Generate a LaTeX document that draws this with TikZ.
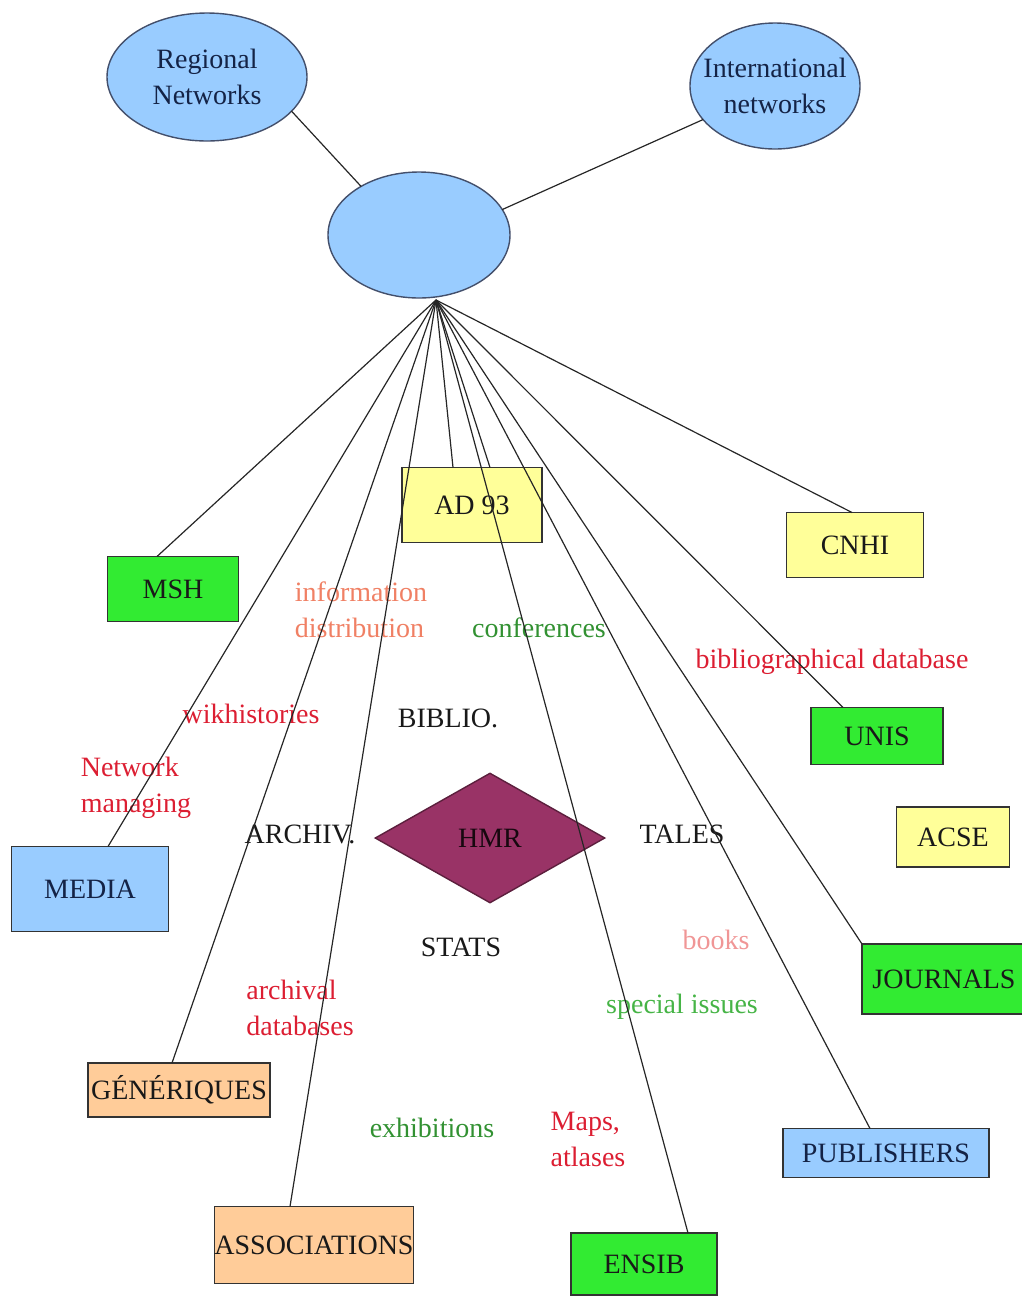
\documentclass[tikz,border=0pt]{standalone}
\usepackage{fontspec}
\setmainfont{Liberation Serif}
\usetikzlibrary{shapes.geometric}

\definecolor{netblue}{RGB}{153,204,255}
\definecolor{netink}{RGB}{20,35,70}
\definecolor{boxgreen}{RGB}{50,235,50}
\definecolor{boxyellow}{RGB}{255,255,153}
\definecolor{boxpeach}{RGB}{255,204,153}
\definecolor{hmrpurple}{RGB}{153,51,102}
\definecolor{tagred}{RGB}{220,30,50}
\definecolor{tagsalmon}{RGB}{240,128,100}
\definecolor{taggreen}{RGB}{50,145,50}
\definecolor{taglightgreen}{RGB}{70,180,70}
\definecolor{tagpink}{RGB}{240,150,150}
\definecolor{inkdark}{RGB}{25,25,25}

\begin{document}
\begin{tikzpicture}[x=0.5pt, y=-0.5pt,
    every node/.style={font=\fontsize{14}{18}\selectfont},
    net/.style={ellipse, draw=netink!80, line width=0.7pt, fill=netblue, inner sep=0pt, outer sep=0pt},
    every label/.style={align=center, text=netink, inner sep=0pt},
    box/.style={draw=black!80, line width=0.7pt, inner sep=0pt, outer sep=0pt, text=inkdark},
    tag/.style={inner sep=0pt, align=left},
    link/.style={line width=0.6pt, black!85}]
    \useasboundingbox (0,0) rectangle (1022,1297);

    % networks
    \node[net, minimum width=100pt, minimum height=64pt, label=center:{Regional\\Networks}] (regional) at (207,77) {};
    \node[net, minimum width=85pt, minimum height=63pt, label=center:{International\\networks}] (intl) at (775,86) {};
    \node[net, minimum width=91pt, minimum height=63pt] (hub) at (419,235) {};

    % partners
    \node[box, fill=boxgreen, minimum width=65.5pt, minimum height=32.5pt] (msh) at (173,589) {MSH};
    \node[box, fill=netblue, text=netink, minimum width=78.5pt, minimum height=42.5pt] (media) at (90,889) {MEDIA};
    \node[box, fill=boxpeach, minimum width=91pt, minimum height=27pt] (gen) at (179,1090) {GÉNÉRIQUES};
    \node[box, fill=boxpeach, minimum width=96pt, minimum height=38.5pt] (assoc) at (314,1245) {ASSOCIATIONS};
    \node[box, fill=boxyellow, minimum width=70pt, minimum height=37.5pt] (ad) at (472,505) {AD 93};
    \node[box, fill=boxyellow, minimum width=68.5pt, minimum height=32.5pt] (cnhi) at (855,545) {CNHI};
    \node[box, fill=boxgreen, minimum width=66pt, minimum height=28.5pt] (unis) at (877,736) {UNIS};
    \node[box, fill=boxyellow, minimum width=56.5pt, minimum height=30pt] (acse) at (953,837) {ACSE};
    \node[box, fill=boxgreen, minimum width=82pt, minimum height=35pt] (journals) at (944,979) {JOURNALS};
    \node[box, fill=netblue, text=netink, minimum width=103pt, minimum height=24.5pt] (publishers) at (886,1153) {PUBLISHERS};
    \node[box, fill=boxgreen, minimum width=73pt, minimum height=31pt] (ensib) at (644,1264) {ENSIB};

    \node[diamond, aspect=1.77, draw=hmrpurple!60!black, line width=0.7pt, fill=hmrpurple, text=black!85!hmrpurple,
          inner sep=0pt, minimum width=115pt, minimum height=65pt] (hmr) at (490,838) {HMR};

    % activities
    \node[tag, text=tagsalmon] (info) at (361,610) {information\\distribution};
    \node[tag, text=taggreen] (conf) at (539,628) {conferences};
    \node[tag, text=tagred] (biblio-db) at (832,662) {bibliographical database};
    \node[tag, text=tagred] (wiki) at (251,714) {wikhistories};
    \node[tag, text=inkdark] (biblio) at (448,718) {BIBLIO.};
    \node[tag, text=tagred] (netman) at (136,788) {Network\\managing};
    \node[tag, text=inkdark] (archiv) at (300,834) {ARCHIV.};
    \node[tag, text=inkdark] (tales) at (682,834) {TALES};
    \node[tag, text=inkdark] (stats) at (461,947) {STATS};
    \node[tag, text=tagpink] (books) at (716,940) {books};
    \node[tag, text=taglightgreen] (special) at (682,1007) {special issues};
    \node[tag, text=tagred] (archdb) at (300,1008) {archival\\databases};
    \node[tag, text=taggreen] (exhib) at (432,1128) {exhibitions};
    \node[tag, text=tagred] (maps) at (588,1139) {Maps,\\atlases};

    % links
    \draw[link] (regional.-22) -- (hub.140);
    \draw[link] (intl.205) -- (hub.17);
    \coordinate (fan) at (436,300);
    \foreach \n/\dx in {msh/-8, media/9, gen/-3.5, assoc/-12, ad/-9.5, ad/9, ensib/22,
                        publishers/-8, journals/-41, unis/-17, cnhi/-1.5}
        \draw[link] (fan) -- ([xshift=\dx pt]\n.north);
\end{tikzpicture}
\end{document}
